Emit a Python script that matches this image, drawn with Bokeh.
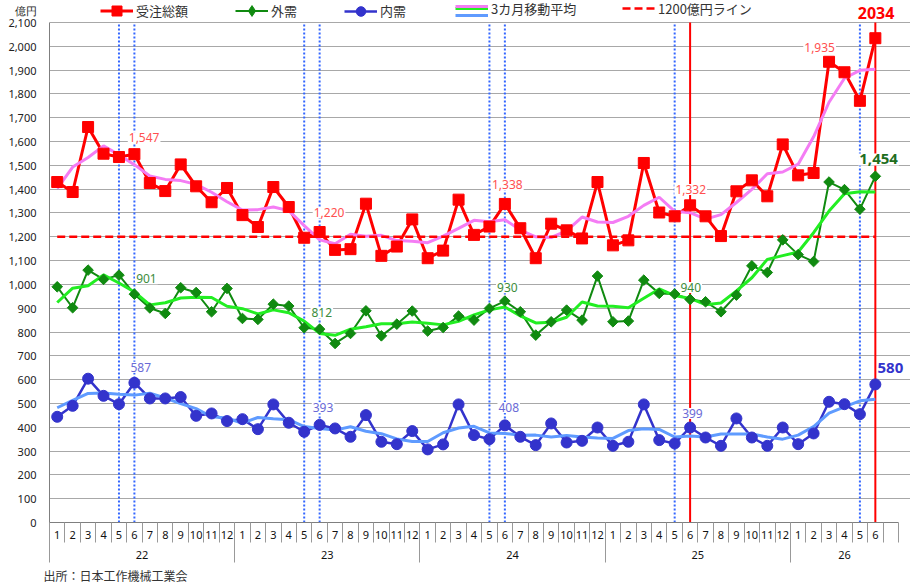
import numpy as np
from bokeh.plotting import figure
from bokeh.layouts import column
from bokeh.models import (Range1d, LinearAxis, FixedTicker, Label, Legend, Grid,
                          LegendItem, NumeralTickFormatter)
from bokeh.embed import file_html
from bokeh.resources import INLINE

# ---------------- data ----------------
years = ["22", "23", "24", "25", "26"]
months_per_year = [12, 12, 12, 12, 6]
year_slots = [12, 12, 12, 12, 7]          # last group has one empty slot

total = [1430, 1388, 1661, 1549, 1535, 1547, 1426, 1392, 1504, 1412, 1345, 1405,
         1291, 1241, 1409, 1325, 1196, 1220, 1145, 1148, 1339, 1120, 1159, 1273,
         1110, 1142, 1356, 1208, 1243, 1338, 1236, 1110, 1255, 1227, 1193, 1430,
         1164, 1185, 1510, 1302, 1286, 1332, 1286, 1203, 1391, 1437, 1370, 1588,
         1458, 1468, 1935, 1891, 1771, 2034]
external = [990, 902, 1060, 1021, 1039, 959, 901, 878, 986, 966, 885, 983,
            857, 853, 917, 909, 818, 812, 752, 794, 889, 784, 833, 888,
            804, 819, 867, 850, 899, 930, 885, 787, 843, 892, 850, 1035,
            843, 846, 1018, 962, 960, 937, 927, 885, 955, 1078, 1050, 1187,
            1125, 1096, 1430, 1398, 1316, 1454]
domestic = [444, 490, 604, 532, 497, 587, 521, 521, 527, 448, 458, 426,
            434, 392, 496, 419, 381, 410, 395, 360, 451, 339, 329, 384,
            307, 328, 496, 367, 350, 408, 360, 325, 416, 336, 343, 399,
            322, 339, 496, 346, 332, 399, 357, 322, 437, 357, 322, 399,
            329, 374, 507, 497, 455, 580]
total_ma = [1402, 1493, 1533, 1582, 1544, 1503, 1455, 1441, 1436, 1420, 1387, 1347,
            1312, 1314, 1325, 1310, 1247, 1187, 1171, 1211, 1202, 1206, 1184, 1181,
            1175, 1203, 1235, 1269, 1263, 1272, 1228, 1200, 1197, 1225, 1283, 1262,
            1260, 1286, 1332, 1366, 1307, 1301, 1274, 1293, 1344, 1399, 1465, 1472,
            1505, 1620, 1765, 1866, 1899, 1904]
external_ma = [924, 984, 994, 1040, 1006, 968, 914, 923, 943, 946, 945, 908,
               898, 876, 893, 881, 846, 794, 786, 812, 822, 835, 835, 842,
               837, 830, 845, 872, 893, 905, 868, 838, 841, 862, 926, 909,
               908, 902, 942, 981, 953, 941, 915, 922, 973, 1028, 1105, 1121,
               1136, 1217, 1308, 1381, 1389, 1388]
domestic_ma = [482, 513, 542, 544, 539, 535, 543, 523, 499, 478, 444, 439,
               417, 441, 436, 432, 403, 395, 388, 402, 383, 373, 351, 340,
               340, 377, 397, 404, 376, 374, 366, 367, 359, 365, 359, 355,
               353, 386, 394, 391, 359, 363, 359, 372, 372, 372, 359, 350,
               367, 403, 459, 486, 511, 518]
line_1200 = 1200
y_ticks = list(range(0, 2101, 100))
unit_tick = 2150                      # where the unit text sits on the value axis

blue_marks = ["22-5", "22-6", "23-5", "23-6", "24-5", "24-6", "25-5", "26-5"]
red_marks = ["25-6", "26-6"]

# value labels: text, x (month slot units), y (value units), color, bold, size
value_labels = [
    ("1,547", 6.13, 1616, "#FF5050", False, "12px"),
    ("901", 6.28, 1024, "#3C8C3C", False, "12px"),
    ("587", 5.91, 652, "#6A6AD6", False, "12px"),
    ("1,220", 18.11, 1301, "#FF5050", False, "12px"),
    ("812", 17.64, 881, "#3C8C3C", False, "12px"),
    ("393", 17.72, 482, "#6A6AD6", False, "12px"),
    ("1,338", 29.66, 1418, "#FF5050", False, "12px"),
    ("930", 29.66, 986, "#3C8C3C", False, "12px"),
    ("408", 29.75, 483, "#6A6AD6", False, "12px"),
    ("1,332", 41.54, 1399, "#FF5050", False, "12px"),
    ("940", 41.54, 987, "#3C8C3C", False, "12px"),
    ("399", 41.65, 458, "#6A6AD6", False, "12px"),
    ("1,935", 49.89, 1996, "#FF5050", False, "12px"),
    ("1,454", 53.71, 1525, "#1E6E1E", True, "15px"),
]

# ---------------- styling ----------------
FONT = "Noto Sans CJK JP"
NUMFONT = "Noto Sans"
RED = "#FF0000"
GREEN = "#108A10"
BLUE = "#3333CC"
PINK = "#F47CF4"
LIME = "#22EE22"
LBLUE = "#5F9BFF"
AXIS = "#7f7f7f"

W, H = 910, 587
BOT_H = 22
MAIN_H = H - BOT_H
LEFT = 49
FRAME_TOP_GAP = 22          # px between canvas top and the 2,100 line
FRAME_BOTTOM = 522          # px of the zero line
PLOT_W = 849                # px covered by the month slots

keys = [f"{y}-{m}" for y, n in zip(years, months_per_year) for m in range(1, n + 1)]
month_labels = [k.split("-")[1] for k in keys]
x = np.arange(len(total)) + 0.5
n_slots = sum(year_slots)
px_per = PLOT_W / n_slots
x_end = n_slots + (W - LEFT - PLOT_W) / px_per
y_top = y_ticks[-1] * FRAME_BOTTOM / (FRAME_BOTTOM - FRAME_TOP_GAP)

p = figure(width=W, height=MAIN_H, x_range=Range1d(0, x_end), y_range=Range1d(0, y_top),
           output_backend="svg", toolbar_location=None, x_axis_type=None, y_axis_type=None,
           min_border_left=LEFT, min_border_right=0, min_border_top=0,
           min_border_bottom=MAIN_H - FRAME_BOTTOM)
p.outline_line_color = None
p.background_fill_color = "white"

# value axis: line only (bounded), then labels (incl. unit)
yA = LinearAxis(bounds=(0, y_ticks[-1]), ticker=FixedTicker(ticks=[]), axis_line_color=AXIS,
                major_tick_out=0, major_tick_in=0, minor_tick_line_color=None,
                major_label_standoff=0, major_label_text_font_size="0px")
p.add_layout(yA, "left")
yB = LinearAxis(ticker=FixedTicker(ticks=y_ticks + [unit_tick]),
                formatter=NumeralTickFormatter(format="0,0"),
                major_label_overrides={float(unit_tick): "億円"},
                axis_line_color=None, major_tick_out=0, major_tick_in=0,
                minor_tick_line_color=None, major_label_standoff=13,
                major_label_text_font=NUMFONT, major_label_text_font_size="11px",
                major_label_text_color="#222222")
p.add_layout(yB, "left")

p.ygrid.visible = False
p.xgrid.visible = False
p.add_layout(Grid(dimension=1, ticker=FixedTicker(ticks=y_ticks), bounds=(0, n_slots),
                  grid_line_color="#a8a8a8", grid_line_width=1.2))

# month axis
axA = LinearAxis(bounds=(0, n_slots),
                 ticker=FixedTicker(ticks=list(x), minor_ticks=list(range(0, n_slots + 1))),
                 major_label_overrides={float(xi): lab for xi, lab in zip(x, month_labels)},
                 major_tick_out=0, major_tick_in=0, minor_tick_out=20, minor_tick_in=0,
                 minor_tick_line_color="#999999", axis_line_color=AXIS,
                 major_label_standoff=-12, major_label_text_font=NUMFONT,
                 major_label_text_font_size="11px", major_label_text_color="#111111")
p.add_layout(axA, "below")

# year axis
bounds = list(np.cumsum([0] + year_slots[:-1]).astype(float))
centers = [b + s / 2 for b, s in zip(bounds, year_slots)]
axB = LinearAxis(ticker=FixedTicker(ticks=centers, minor_ticks=bounds),
                 major_label_overrides={float(c): y for c, y in zip(centers, years)},
                 major_tick_out=0, major_tick_in=0, minor_tick_out=21, minor_tick_in=19,
                 minor_tick_line_color="#999999", axis_line_color=None,
                 major_label_standoff=-12, major_label_text_font=NUMFONT,
                 major_label_text_font_size="11px", major_label_text_color="#111111")
p.add_layout(axB, "below")

# vertical marker lines (May/June)
bx = [keys.index(k) + 0.5 for k in blue_marks]
rx = [keys.index(k) + 0.5 for k in red_marks]
p.segment(x0=bx, y0=[0] * len(bx), x1=bx, y1=[y_ticks[-1]] * len(bx),
          line_color="#3366FF", line_dash="2 2", line_width=2)
p.segment(x0=rx, y0=[0] * len(rx), x1=rx, y1=[y_ticks[-1]] * len(rx),
          line_color=RED, line_width=2)

# series
r_tot = p.line(x, total, line_color=RED, line_width=3)
r_ext = p.line(x, external, line_color=GREEN, line_width=2)
r_dom = p.line(x, domestic, line_color=BLUE, line_width=2.5)
r_tma = p.line(x, total_ma, line_color=PINK, line_width=3)
r_ema = p.line(x, external_ma, line_color=LIME, line_width=3)
r_dma = p.line(x, domestic_ma, line_color=LBLUE, line_width=3)
r_1200 = p.line([x[0], x[-1]], [line_1200, line_1200], line_color=RED, line_width=2.5,
                line_dash="8 4")
m_tot = p.scatter(x, total, marker="square", size=11, color=RED)
# diamond symbol for the legend (sits under the first rotated-square marker)
m_ext_key = p.scatter(x[:1], external[:1], marker="diamond", size=9, color=GREEN)
m_ext = p.scatter(x, external, marker="square", angle=np.pi / 4, size=7.5, color=GREEN)
m_dom = p.scatter(x, domestic, marker="circle", size=11, color=BLUE)

for text, lx, ly, col, bold, fs in value_labels:
    p.add_layout(Label(x=lx, y=ly, text=text, text_align="center", text_baseline="middle",
                       text_color=col, text_font=NUMFONT, text_font_size=fs,
                       text_font_style="bold" if bold else "normal",
                       background_fill_color="white", padding=1))
p.add_layout(Label(x=53.64, y=649, text=f"{domestic[-1]}", text_align="left",
                   text_baseline="middle", text_color=BLUE, text_font=NUMFONT,
                   text_font_size="15px", text_font_style="bold"))
p.add_layout(Label(x=keys.index(red_marks[-1]) + 0.55, y=2142, text=f"{total[-1]}",
                   text_align="center", text_baseline="middle", text_color=RED,
                   text_font=NUMFONT, text_font_size="16px", text_font_style="bold"))

# legends (frame-relative px, y measured up from the zero line)
def add_legend(label, renderers, page_x, page_cy, gh):
    lg = Legend(items=[LegendItem(label=label, renderers=renderers)],
                location=(page_x - LEFT, FRAME_BOTTOM - page_cy - gh / 2),
                orientation="horizontal", glyph_width=33, glyph_height=gh, label_standoff=3,
                padding=0, margin=0, spacing=0, border_line_color=None,
                background_fill_alpha=0, label_text_font=FONT, label_text_font_size="13px",
                label_text_color="#333333", label_height=gh)
    p.add_layout(lg)

CY = 10.8
add_legend("受注総額", [r_tot, m_tot], 100, CY, 25)
add_legend("外需", [r_ext, m_ext_key], 235, CY, 27)
add_legend("内需", [r_dom, m_dom], 344, CY, 24)
add_legend("3カ月移動平均", [r_ema], 455, CY, 14)
add_legend(" ", [r_tma], 455, CY - 4.7, 14)
add_legend(" ", [r_dma], 455, CY + 4.6, 14)
add_legend("1200億円ライン", [r_1200], 622, CY, 14)

# bottom strip: source
bot = figure(width=W, height=BOT_H, x_range=Range1d(0, W), y_range=Range1d(0, BOT_H),
             output_backend="svg", toolbar_location=None, x_axis_type=None,
             y_axis_type=None, min_border=0, min_border_left=0, min_border_right=0,
             min_border_top=0, min_border_bottom=0)
bot.frame_align = False
bot.outline_line_color = None
bot.grid.visible = False
bot.add_layout(Label(x=43, y=12, x_units="screen", y_units="screen",
                     text="出所：日本工作機械工業会", text_align="left", text_baseline="middle",
                     text_color="#333333", text_font=FONT, text_font_size="12px"))

layout = column(p, bot, spacing=0)
open("out.html", "w").write(file_html(layout, INLINE))
